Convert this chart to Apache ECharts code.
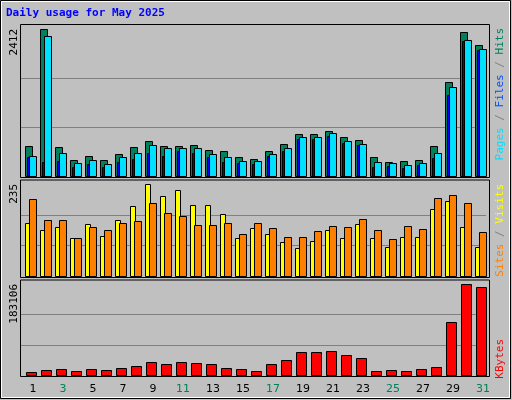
<!DOCTYPE html>
<html><head><meta charset="utf-8">
<script src="https://cdn.jsdelivr.net/npm/echarts@6/dist/echarts.min.js"></script>
<style>html,body{margin:0;padding:0;background:#C0C0C0}#c{width:512px;height:400px}</style>
</head><body><div id="c"></div>
<script>
const days = ['1','2','3','4','5','6','7','8','9','10','11','12','13','14','15','16','17','18','19','20','21','22','23','24','25','26','27','28','29','30','31'];
const weekend = [3,4,10,11,17,18,24,25,31];
const hits  = [498,2412,481,262,334,262,366,481,574,498,498,514,432,416,317,284,416,530,695,695,744,645,596,317,235,252,268,498,1548,2363,2155];
const files = [334,2303,383,219,268,202,317,383,514,465,465,465,366,317,252,252,366,465,645,645,711,580,530,235,219,186,219,383,1466,2237,2089];
const pages = [317,235,252,153,202,153,235,284,383,334,416,383,317,235,219,202,334,416,612,612,661,547,514,153,169,137,186,301,1334,2219,2071];
const visits= [135,117,125,97,133,102,143,179,235,204,220,181,181,158,97,123,107,87,72,89,117,97,133,97,74,100,100,171,192,125,74];
const sites = [197,143,143,97,125,117,135,140,186,161,153,130,130,135,107,135,123,100,100,115,128,125,146,117,95,128,120,199,207,186,112];
const kbytes= [6036,10061,12073,8049,12073,10061,14085,18780,26158,22134,26158,24146,22134,14085,12073,8049,22134,30182,46280,46280,48292,40243,34207,8049,10061,8049,12073,16097,106646,183106,177070];
const maxHits = 2412, maxSites = 235, maxKB = 183106;

const chart = echarts.init(document.getElementById('c'));
const grids = [
  {left:21,width:465,top:29.3,height:147},
  {left:21,width:465,top:184.3,height:92},
  {left:21,width:465,top:284.3,height:91}
];
const frames = [[24.5,177.5],[180,277.5],[280,376.5]];
function xa(i,showLabel){return {type:'category',gridIndex:i,data:days,boundaryGap:true,
  axisLine:{show:false},axisTick:{show:false},
  axisLabel:{show:showLabel,margin:8,padding:[0,0,0,9],fontFamily:'DejaVu Sans',fontSize:11,
    color:(v)=>weekend.includes(+v)?'#00805C':'#000'}};}
function ya(i,max){return {type:'value',gridIndex:i,min:0,max:max,interval:max/3,
  axisLine:{show:false},axisTick:{show:false},axisLabel:{show:false},
  splitLine:{show:true,lineStyle:{color:['rgba(0,0,0,0)','#808080','#808080','rgba(0,0,0,0)'],width:1}}};}
function rectSeries(gi,data,color,o0,o1,z){
  return {type:'custom',xAxisIndex:gi,yAxisIndex:gi,z:z,data:data.map((v,i)=>[i,v]),
    renderItem:(p,api)=>{const i=api.value(0),v=api.value(1);
      const top=api.coord([i,v]),bot=api.coord([i,0]);const c=top[0];
      return {type:'rect',shape:{x:Math.round(c+o0)+0.5,y:Math.round(top[1])+0.5,width:o1-o0,height:Math.round(bot[1])-Math.round(top[1])},
        style:{fill:color,stroke:'#000',lineWidth:1}};}};
}
const graphic=[
  {type:'rect',shape:{x:0.5,y:0.5,width:510,height:398},style:{fill:'none',stroke:'#000',lineWidth:1},z:-10},
  {type:'rect',shape:{x:1.5,y:1.5,width:508,height:396},style:{fill:'none',stroke:'#fff',lineWidth:1},z:-10},
  {type:'text',left:6,top:8,style:{text:'Daily usage for May 2025',fill:'#0000FF',font:'bold 11px "DejaVu Sans Mono"'}},
];
frames.forEach(f=>graphic.push({type:'rect',z:-5,shape:{x:20.5,y:f[0],width:469,height:f[1]-f[0]},style:{fill:'#C0C0C0',stroke:'#000',lineWidth:1}}));
function vtext(x,y,rich,text){graphic.push({type:'text',x:x,y:y,rotation:Math.PI/2,style:{text:text,rich:rich,font:'11px "DejaVu Sans Mono"',fill:'#000',align:'right',verticalAlign:'middle'}});}
vtext(14,29,{}, '2412');
vtext(14,184,{}, '235');
vtext(14,284,{}, '183106');
const rf='11px "DejaVu Sans Mono"';
vtext(500,28,{p:{fill:'#00E0FF',font:rf},f:{fill:'#0050FF',font:rf},h:{fill:'#00805C',font:rf},s:{fill:'#808080',font:rf}},'{p|Pages}{s| / }{f|Files}{s| / }{h|Hits}');
vtext(500,184,{a:{fill:'#FF8000',font:rf},b:{fill:'#FFFF00',font:rf},s:{fill:'#808080',font:rf}},'{a|Sites}{s| / }{b|Visits}');
vtext(500,339,{k:{fill:'#FF0000',font:rf}},'{k|KBytes}');

chart.setOption({
  backgroundColor:'#C0C0C0',animation:false,
  grid:grids,
  xAxis:[xa(0,false),xa(1,false),xa(2,true)],
  yAxis:[ya(0,maxHits),ya(1,maxSites),ya(2,maxKB)],
  graphic:graphic,
  series:[
    rectSeries(0,hits,'#00805C',-3.2,3.8,2),
    rectSeries(0,files,'#00E0FF',0.8,7.8,3),
    rectSeries(0,pages,'#0000FF',-1.2,0.8,4),
    rectSeries(1,visits,'#FFFF00',-3.2,1.8,2),
    rectSeries(1,sites,'#FF8000',0.8,7.8,3),
    rectSeries(2,kbytes,'#FF0000',-2.2,7.8,2)
  ]
});
</script></body></html>
